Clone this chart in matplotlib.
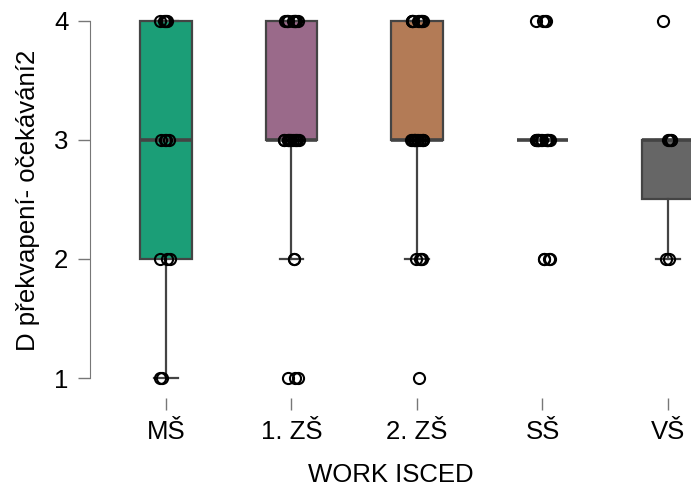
import numpy as np
import matplotlib
matplotlib.use('Agg')
import matplotlib.pyplot as plt

plt.rcParams['font.family'] = ['Liberation Sans', 'DejaVu Sans']

categories = ['MŠ', '1. ZŠ', '2. ZŠ', 'SŠ', 'VŠ']
ms = [1, 1, 2, 2, 2, 3, 3, 3, 3, 4, 4, 4, 4, 4]
zs1 = [1] * 3 + [2] * 2 + [3] * 12 + [4] * 10
zs2 = [1] * 1 + [2] * 4 + [3] * 12 + [4] * 10
ss = [2] * 4 + [3] * 15 + [4] * 4
vs = [2, 2, 3, 3, 3, 3, 4]
groups = [ms, zs1, zs2, ss, vs]
colors = ['#1b9e77', '#9a6a8a', '#b37b56', '#d9b000', '#666666']

fig = plt.figure(figsize=(6.91, 4.86), dpi=100)
ax = fig.add_axes([90 / 691, 96 / 486, 601 / 691, 380 / 486])

pos = np.arange(1, len(groups) + 1)
edge = '#444444'
bp = ax.boxplot(groups, positions=pos, widths=0.41, patch_artist=True,
                showfliers=False, capwidths=0.19,
                boxprops=dict(edgecolor=edge, linewidth=1.6),
                whiskerprops=dict(color=edge, linewidth=1.6),
                capprops=dict(color=edge, linewidth=1.6),
                medianprops=dict(color=edge, linewidth=2.6))
for patch, c in zip(bp['boxes'], colors):
    patch.set_facecolor(c)

# small horizontal jitter of the points, like R's jitter()
rng = np.random.default_rng(3)
for p, g in zip(pos, groups):
    x = p + rng.uniform(-0.06, 0.06, len(g))
    ax.plot(x, g, 'o', mfc='none', mec='black', ms=8, mew=1.5,
            clip_on=False, zorder=5)

ax.set_xlim(1 - 76 / 125.6, 5 + 23 / 125.6)
ax.set_ylim(1 - 12 / 119, 4 + 11 / 119)

for s in ['top', 'right', 'bottom']:
    ax.spines[s].set_visible(False)
ax.spines['left'].set_bounds(1, 4)
ax.spines['left'].set_color('#777777')
ax.spines['bottom'].set_position(('outward', 6))

ax.set_yticks([1, 2, 3, 4])
ax.set_xticks(pos)
ax.set_xticklabels(categories)
ax.tick_params(axis='y', length=8.6, width=1, color='#777777', pad=7, labelsize=18.5)
ax.tick_params(axis='x', length=8.6, width=1, color='#777777', pad=7, labelsize=18.5)

ax.set_xlabel('WORK ISCED', fontsize=18.5, labelpad=14)
ax.set_ylabel('D překvapení- očekávání2', fontsize=18.5, labelpad=10)

fig.savefig('out.png', dpi=100)
